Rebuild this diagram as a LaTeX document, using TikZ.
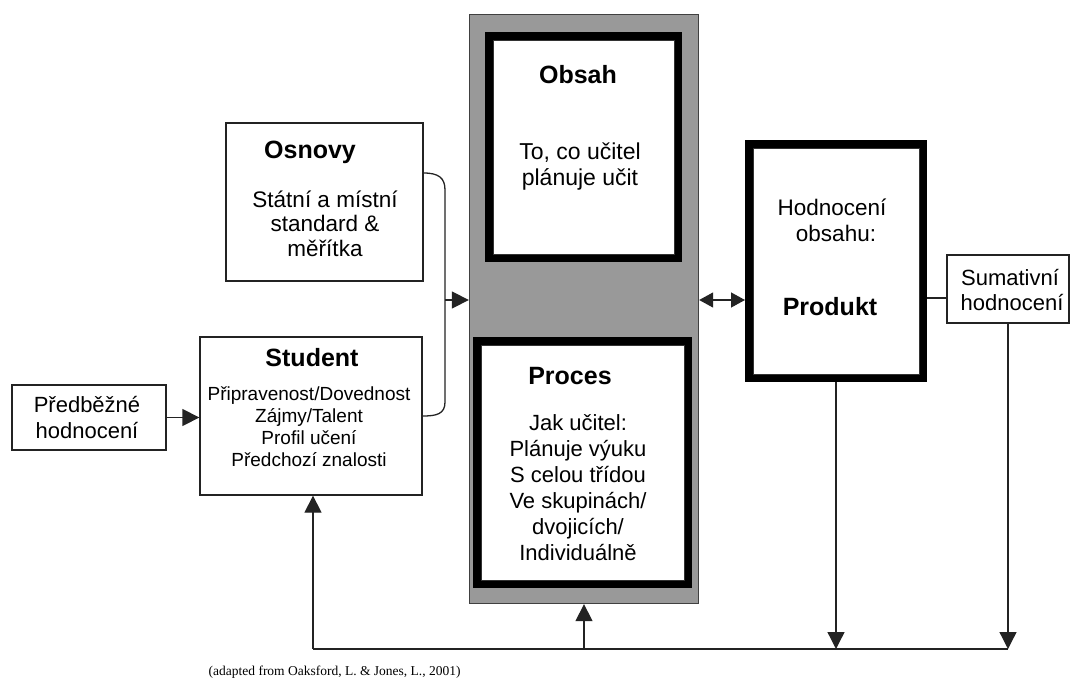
\documentclass[tikz,border=0pt]{standalone}
\usepackage{fontspec}
\setmainfont{Liberation Sans}
\newfontfamily\citace{Liberation Serif}
\usetikzlibrary{arrows.meta}
\definecolor{seda}{RGB}{153,153,153}
\definecolor{cara}{RGB}{35,35,35}

\begin{document}
\begin{tikzpicture}[x=1pt,y=-1pt,line width=1.3pt,draw=cara,
  ramec/.style 2 args={draw=cara,fill=white,minimum width=#1,minimum height=#2,inner sep=0pt},
  tlusty/.style 2 args={draw=black,line width=8pt,fill=white,minimum width=#1,minimum height=#2,inner sep=0pt},
  nadpis/.style={font=\fontsize{25}{28}\selectfont\bfseries,inner sep=0pt,anchor=base},
  pismo/.style={font=\fontsize{#1}{#1}\selectfont,inner sep=0pt,anchor=base},
  sipka/.style={-{Triangle[length=17pt,width=17pt]}},
  obe/.style={{Triangle[length=14pt,width=15pt]}-{Triangle[length=14pt,width=15pt]}}]
\useasboundingbox (0,0) rectangle (1071,680);

% boxes
\node[ramec={229pt}{589pt},fill=seda,draw=black!75] (obal) at (584,309) {};
\node[tlusty={189pt}{222pt}] (obsah) at (583.5,147) {};
\node[tlusty={211pt}{243pt}] (proces) at (582.5,462.5) {};
\node[tlusty={174pt}{234pt}] (produkt) at (836,261) {};
\foreach \n in {obsah,proces,produkt}
  \draw[line width=0.9pt,draw=black!80] ([shift={(8,8)}]\n.north west) rectangle ([shift={(-8,-8)}]\n.south east);
\node[ramec={197pt}{158pt}] (osnovy) at (324.5,202) {};
\node[ramec={222pt}{158pt}] (student) at (311,416) {};
\node[ramec={154pt}{65pt}] (pred) at (89,417.5) {};
\node[ramec={122pt}{68pt}] (suma) at (1008,289) {};

% texts
\node[nadpis] (tObsah) at (578,83) {Obsah};
\foreach \t [count=\i] in {{To, co učitel},plánuje učit}
  \node[pismo=23] (tObsah\i) at (580,{159+26*(\i-1)}) {\t};
\node[nadpis] (tOsnovy) at (310,158) {Osnovy};
\foreach \t [count=\i] in {Státní a místní,standard \&,měřítka}
  \node[pismo=22.5] (tOsnovy\i) at (325,{207+24.5*(\i-1)}) {\t};
\node[nadpis] (tStudent) at (312,366) {Student};
\foreach \t [count=\i] in {Připravenost/Dovednost,Zájmy/Talent,Profil učení,Předchozí znalosti}
  \node[pismo=19] (tStudent\i) at (309,{400+22*(\i-1)}) {\t};
\node[pismo=22] (tPred1) at (87,412) {Předběžné};
\node[pismo=22] (tPred2) at (87,438) {hodnocení};
\node[nadpis] (tProces) at (570,384) {Proces};
\foreach \t [count=\i] in {Jak učitel:,Plánuje výuku,S celou třídou,Ve skupinách/,dvojicích/,Individuálně}
  \node[pismo=22] (tProces\i) at (578,{430+26*(\i-1)}) {\t};
\node[pismo=22.5] (tProdukt1) at (832,215) {Hodnocení};
\node[pismo=22.5] (tProdukt2) at (836,241.5) {obsahu:};
\node[nadpis] (tProdukt) at (830,315) {Produkt};
\node[pismo=22] (tSuma1) at (1010,285) {Sumativní};
\node[pismo=22] (tSuma2) at (1012,310) {hodnocení};
\node[inner sep=0pt,anchor=base west,font=\citace\fontsize{13.5}{13.5}\selectfont] (zdroj) at (208,675)
  {(adapted from Oaksford, L. \& Jones, L., 2001)};

% connectors
\coordinate (zavorka) at (445,300);
\draw ([yshift=29pt]osnovy.east) .. controls +(15,0) and +(0,-12) .. (445,190)
  -- (zavorka) -- (445,402) .. controls +(0,12) and +(14,0) .. (student.east);
\draw[sipka] (zavorka) -- (zavorka -| obal.west);
\draw[sipka] (pred) -- (pred -| student.west);
\draw[obe] ([yshift=9pt]obal.east) -- ([yshift=9pt]obal.east -| produkt.west);
\coordinate (sumaL) at ([yshift=-9pt]suma.west);
\draw (sumaL) -- (sumaL -| produkt.east);
\coordinate (rohL) at (313,649);
\coordinate (rohP) at (suma.south |- rohL);
\draw (rohL) -- (rohP);
\draw[sipka] (rohL) -- (rohL |- student.south);
\draw[sipka] (obal.south |- rohL) -- (obal.south);
\draw[sipka] (produkt.south) -- (produkt.south |- rohL);
\draw[sipka] (suma.south) -- (rohP);
\end{tikzpicture}
\end{document}
